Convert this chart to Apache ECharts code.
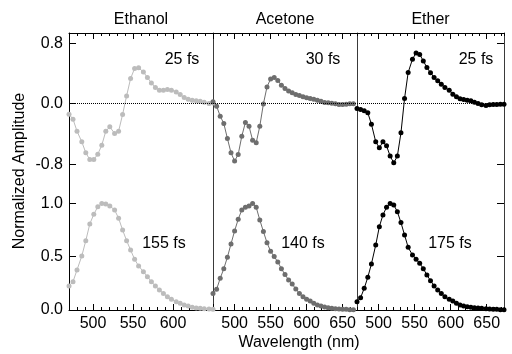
<!DOCTYPE html>
<html>
<head>
<meta charset="utf-8">
<script src="https://cdn.jsdelivr.net/npm/echarts@6/dist/echarts.min.js"></script>
<style>
  html, body { margin: 0; padding: 0; background: #fff; }
  #chart { width: 512px; height: 354px; }
</style>
</head>
<body>
<div id="chart"></div>
<script>
// Solvents, delay labels and axis ticks
const solvents = ['Ethanol', 'Acetone', 'Ether'];
const earlyDelay = ['25 fs', '30 fs', '25 fs'];
const lateDelay = ['155 fs', '140 fs', '175 fs'];
const xTickValues = [[500, 550, 600], [500, 550, 600, 650], [500, 550, 600, 650]];
const earlyTicks = [-0.8, 0, 0.8];
const lateTicks = [0, 0.5, 1.0];

// Wavelength grids (nm)
const ethanolNm = [470, 475, 480, 486, 491, 496, 501, 506, 511, 516, 521, 527, 532, 537, 542, 547, 552, 557,
  563, 568, 573, 578, 583, 588, 593, 598, 604, 609, 614, 619, 624, 629, 634, 639, 645, 650];
const acetoneNm = [470, 475, 480, 485, 490, 495, 500, 505, 510, 515, 520, 525, 530, 535, 540, 545, 550, 555,
  560, 565, 570, 575, 580, 585, 590, 595, 600, 605, 610, 615, 620, 625, 630, 635, 640, 645, 650, 655, 660, 665];
const etherNm = [470, 475, 480, 485, 490, 496, 501, 506, 511, 516, 521, 526, 531, 536, 541, 547, 552, 557,
  562, 567, 572, 577, 582, 587, 592, 598, 603, 608, 613, 618, 623, 628, 633, 638, 643, 649, 654, 659, 664, 669, 674];

// Early-time spectra (25-30 fs)
const ethanolEarly = [-0.14, -0.205, -0.364, -0.505, -0.65, -0.74, -0.74, -0.668, -0.549, -0.364, -0.307, -0.394,
  -0.364, -0.143, 0.103, 0.333, 0.466, 0.474, 0.42, 0.346, 0.275, 0.214, 0.179, 0.179, 0.188, 0.179, 0.156,
  0.122, 0.082, 0.06, 0.046, 0.037, 0.033, 0.02, 0.003, 0.01];
const acetoneEarly = [0.024, -0.033, -0.165, -0.262, -0.46, -0.65, -0.76, -0.672, -0.43, -0.249, -0.298, -0.483,
  -0.518, -0.298, -0.003, 0.222, 0.328, 0.346, 0.307, 0.245, 0.201, 0.169, 0.143, 0.122, 0.108, 0.09, 0.077,
  0.069, 0.06, 0.046, 0.033, 0.016, 0.011, 0.007, -0.002, -0.011, -0.011, -0.007, -0.002, -0.002];
const etherEarly = [-0.064, -0.077, -0.095, -0.121, -0.271, -0.505, -0.584, -0.505, -0.558, -0.694, -0.783, -0.694,
  -0.386, 0.069, 0.413, 0.589, 0.672, 0.651, 0.566, 0.479, 0.408, 0.347, 0.302, 0.258, 0.214, 0.179, 0.126,
  0.09, 0.064, 0.056, 0.046, 0.037, 0.02, 0.003, -0.015, -0.024, -0.015, -0.011, -0.011, -0.007, -0.007];

// Late-time spectra (140-175 fs)
const ethanolLate = [0.225, 0.266, 0.376, 0.507, 0.651, 0.808, 0.898, 0.97, 1.0, 0.995, 0.977, 0.939, 0.861,
  0.751, 0.651, 0.563, 0.476, 0.413, 0.36, 0.313, 0.266, 0.225, 0.188, 0.156, 0.125, 0.1, 0.078, 0.063, 0.047,
  0.038, 0.025, 0.019, 0.016, 0.012, 0.009, 0.006];
const acetoneLate = [0.156, 0.194, 0.297, 0.388, 0.495, 0.62, 0.742, 0.851, 0.939, 0.964, 0.977, 1.0, 0.964,
  0.845, 0.736, 0.632, 0.551, 0.501, 0.451, 0.388, 0.332, 0.282, 0.244, 0.197, 0.156, 0.125, 0.1, 0.085, 0.063,
  0.047, 0.038, 0.028, 0.022, 0.016, 0.012, 0.009, 0.006, 0.006, 0.003, 0.003];
const etherLate = [0.078, 0.116, 0.203, 0.307, 0.432, 0.61, 0.782, 0.892, 0.964, 1.0, 0.986, 0.923, 0.82, 0.704,
  0.588, 0.516, 0.476, 0.438, 0.388, 0.329, 0.275, 0.225, 0.188, 0.156, 0.125, 0.1, 0.085, 0.063, 0.047, 0.038,
  0.031, 0.025, 0.022, 0.019, 0.016, 0.012, 0.009, 0.006, 0.006, 0.003, 0.003];

const nmSets = [ethanolNm, acetoneNm, etherNm];
const earlySets = [ethanolEarly, acetoneEarly, etherEarly];
const lateSets = [ethanolLate, acetoneLate, etherLate];
const colors = ['#bcbcbc', '#6e6e6e', '#000000'];

// Panel geometry
const FONT = '"Liberation Sans", Arial, Helvetica, sans-serif';
const columns = [
  { left: 69, width: 144, max: 650 },
  { left: 213, width: 144, max: 670 },
  { left: 357, width: 147, max: 674 }
];
const rows = [
  { top: 33, height: 147, min: -1.01, max: 0.935, ticks: earlyTicks, sets: earlySets, pos: 'top' },
  { top: 180, height: 130, min: 0, max: 1.22, ticks: lateTicks, sets: lateSets, pos: 'bottom' }
];

const grid = [], xAxis = [], yAxis = [], series = [];

rows.forEach((row, r) => {
  columns.forEach((col, c) => {
    const g = grid.length;
    grid.push({ left: col.left, top: row.top, width: col.width, height: row.height, containLabel: false });

    const majors = xTickValues[2].filter(v => v <= col.max);
    // minor ticks every 10 nm, with the axis line
    const xMain = xAxis.length;
    xAxis.push({
      type: 'value', gridIndex: g, min: 470, max: col.max, interval: 10, position: row.pos,
      axisLine: { show: true, onZero: false, lineStyle: { color: '#000', width: 1 } },
      axisTick: { show: true, inside: true, length: 3, lineStyle: { color: '#000', width: 1 } },
      axisLabel: r === 1 ? {
        show: true, customValues: xTickValues[c], fontSize: 16, fontFamily: FONT, color: '#000', margin: 6
      } : { show: false },
      splitLine: { show: false }
    });
    // major ticks every 50 nm
    xAxis.push({
      type: 'value', gridIndex: g, min: 470, max: col.max, position: row.pos,
      axisLine: { show: false, onZero: false },
      axisTick: { show: true, inside: true, length: 6, customValues: majors, lineStyle: { color: '#000', width: 1 } },
      axisLabel: { show: false },
      splitLine: { show: false }
    });

    const yMain = yAxis.length;
    yAxis.push({
      type: 'value', gridIndex: g, min: row.min, max: row.max, position: 'left',
      axisLine: { show: true, onZero: false, lineStyle: { color: c === 0 ? '#000' : '#3a3a3a', width: 1 } },
      axisTick: c === 0 ? { show: true, inside: true, length: 7, customValues: row.ticks, lineStyle: { color: '#000' } } : { show: false },
      axisLabel: c === 0 ? {
        show: true, customValues: row.ticks, fontSize: 16, fontFamily: FONT, color: '#000', margin: 6,
        formatter: v => Number(v).toFixed(1)
      } : { show: false },
      splitLine: { show: false }
    });
    if (c === 2) {
      yAxis.push({
        type: 'value', gridIndex: g, min: row.min, max: row.max, position: 'right',
        axisLine: { show: true, onZero: false, lineStyle: { color: '#3a3a3a', width: 1 } },
        axisTick: { show: true, inside: true, length: 7, customValues: row.ticks, lineStyle: { color: '#000' } },
        axisLabel: { show: false },
        splitLine: { show: false }
      });
    }

    const nm = nmSets[c];
    const vals = row.sets[c];
    const s = {
      type: 'line', xAxisIndex: xMain, yAxisIndex: yMain,
      data: nm.map((x, i) => [x, vals[i]]),
      symbol: 'circle', symbolSize: 5, showSymbol: true,
      itemStyle: { color: colors[c] },
      lineStyle: { color: colors[c], width: 1 },
      clip: true, silent: true, z: 3
    };
    if (r === 0) {
      s.markLine = {
        silent: true, symbol: 'none', label: { show: false },
        lineStyle: { color: '#000', type: 'dotted', width: 1 },
        data: [{ yAxis: 0 }]
      };
    }
    series.push(s);
  });
});

const text = (x, y, str, extra) => Object.assign({
  type: 'text', x, y,
  style: { text: str, fontSize: 16, fontFamily: FONT, fill: '#000', align: 'center', verticalAlign: 'middle' }
}, extra || {});

const graphic = [];
solvents.forEach((name, c) => graphic.push(text(columns[c].left + columns[c].width / 2, 20, name)));
[[182, 60], [323, 60], [476, 60]].forEach((p, c) => graphic.push(text(p[0], p[1], earlyDelay[c])));
[[164, 244], [303, 244], [450, 244]].forEach((p, c) => graphic.push(text(p[0], p[1], lateDelay[c])));
graphic.push(text(299, 343, 'Wavelength (nm)'));
graphic.push(text(20, 171, 'Normalized Amplitude', { rotation: Math.PI / 2 }));

const chart = echarts.init(document.getElementById('chart'), null, { renderer: 'canvas' });
chart.setOption({
  animation: false,
  backgroundColor: '#fff',
  grid, xAxis, yAxis, series, graphic
});
</script>
</body>
</html>
